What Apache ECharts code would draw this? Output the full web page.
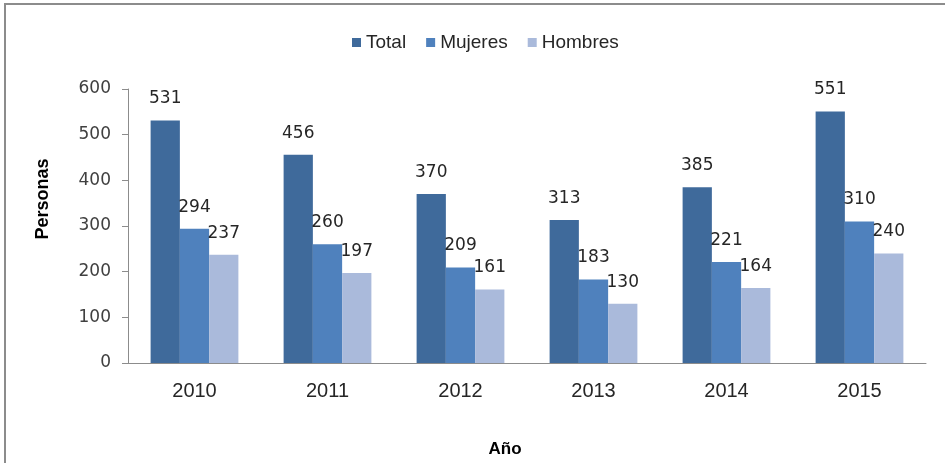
<!DOCTYPE html>
<html>
<head>
<meta charset="utf-8">
<script src="https://cdn.jsdelivr.net/npm/echarts@6/dist/echarts.min.js"></script>
<style>
    html, body { margin: 0; padding: 0; background: #fff; }
    #frame { position: absolute; left: 4px; top: 3px; width: 960px; height: 480px; border: 2px solid #8c8c8c; box-sizing: border-box; }
    #main { position: absolute; left: 0; top: 0; width: 945px; height: 463px; }
</style>
</head>
<body>
<div id="frame"></div>
<div id="main"></div>
<script type="text/javascript">
    // datos
    var years = ['2010', '2011', '2012', '2013', '2014', '2015'];
    var total = [531, 456, 370, 313, 385, 551];
    var mujeres = [294, 260, 209, 183, 221, 310];
    var hombres = [237, 197, 161, 130, 164, 240];

    var labelStyle = {
        show: true,
        position: 'top',
        distance: 13,
        fontFamily: 'DejaVu Sans',
        fontSize: 17,
        color: '#262626'
    };

    var myChart = echarts.init(document.getElementById('main'));
    var option = {
        animation: false,
        legend: {
            data: ['Total', 'Mujeres', 'Hombres'],
            top: 28,
            left: 347,
            icon: 'rect',
            itemWidth: 9,
            itemHeight: 9,
            itemGap: 20,
            textStyle: { fontFamily: 'Liberation Sans', fontSize: 19, color: '#262626' }
        },
        grid: { left: 128, right: 19, top: 89, bottom: 97 },
        xAxis: {
            type: 'category',
            data: years,
            name: 'Año',
            nameLocation: 'middle',
            nameGap: 78,
            nameTextStyle: { fontFamily: 'Liberation Sans', fontSize: 17, fontWeight: 'bold', color: '#000', padding: [0, 44, 0, 0] },
            axisLine: { lineStyle: { color: '#8c8c8c', width: 1 } },
            axisTick: { length: 7, lineStyle: { color: '#8c8c8c' } },
            axisLabel: { fontFamily: 'Liberation Sans', fontSize: 20, color: '#262626', margin: 18 }
        },
        yAxis: {
            type: 'value',
            min: 0,
            max: 600,
            interval: 100,
            name: 'Personas',
            nameLocation: 'middle',
            nameGap: 76,
            nameTextStyle: { fontFamily: 'Liberation Sans', fontSize: 18, fontWeight: 'bold', color: '#000', padding: [0, 0, 0, 54] },
            axisLine: { show: true, lineStyle: { color: '#8c8c8c', width: 1 } },
            axisTick: { show: true, length: 6, lineStyle: { color: '#8c8c8c' } },
            splitLine: { show: false },
            axisLabel: { fontFamily: 'DejaVu Sans', fontSize: 17, color: '#404040', margin: 17 }
        },
        series: [
            {
                name: 'Total',
                type: 'bar',
                data: total,
                barGap: '0%',
                barCategoryGap: '34%',
                itemStyle: { color: '#3f6a9b' },
                label: labelStyle
            },
            {
                name: 'Mujeres',
                type: 'bar',
                data: mujeres,
                itemStyle: { color: '#4f81bd' },
                label: labelStyle
            },
            {
                name: 'Hombres',
                type: 'bar',
                data: hombres,
                itemStyle: { color: '#aabadb' },
                label: labelStyle
            }
        ]
    };
    myChart.setOption(option);
</script>
</body>
</html>
